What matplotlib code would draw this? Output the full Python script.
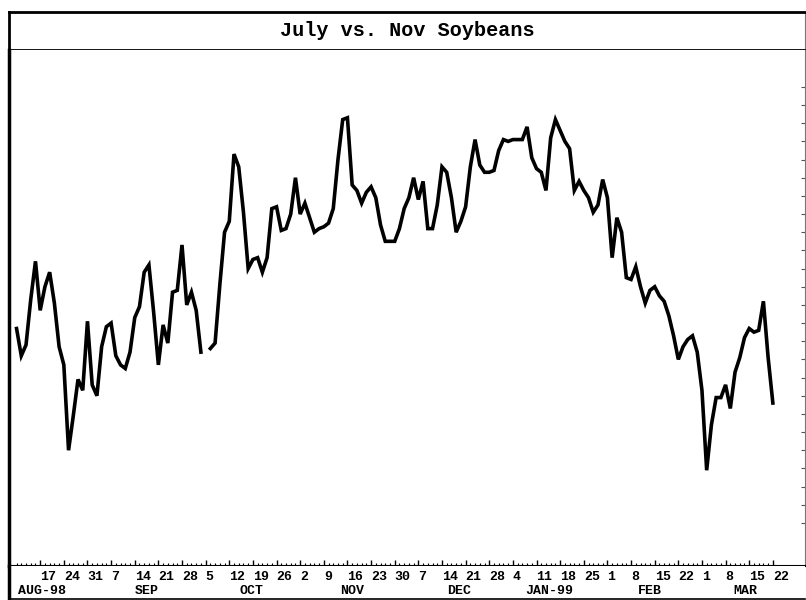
import numpy as np
import pandas as pd
import matplotlib
matplotlib.use("Agg")
import matplotlib.pyplot as plt

# July minus Nov soybean spread, one value per trading day
start_day = "1998-08-10"
end_day = "1999-03-22"
spread = [
    10.7, 9.2, 9.8, 12.3, 14.4, 11.7, 13.0, 13.8, 12.1, 9.7,
    8.7, 4.0, 5.9, 7.9, 7.3, 11.1, 7.6, 7.0, 9.7, 10.8,
    11.0, 9.2, 8.7, 8.5, 9.4, 11.3, 11.9, 13.8, 14.2, 11.6,
    8.7, 10.9, 9.9, 12.7, 12.8, 15.3, 12.0, 12.7, 11.7, 9.4,
    np.nan, 9.6, 9.9, 13.1, 16.0, 16.6, 20.3, 19.6, 17.1, 14.0,
    14.5, 14.6, 13.8, 14.6, 17.3, 17.4, 16.1, 16.2, 17.0, 19.0,
    17.0, 17.6, 16.8, 16.0, 16.2, 16.3, 16.5, 17.3, 20.0, 22.2,
    22.3, 18.6, 18.3, 17.6, 18.2, 18.5, 17.9, 16.4, 15.5, 15.5,
    15.5, 16.2, 17.3, 17.9, 19.0, 17.8, 18.8, 16.2, 16.2, 17.5,
    19.6, 19.3, 17.9, 16.0, 16.6, 17.4, 19.6, 21.1, 19.7, 19.3,
    19.3, 19.4, 20.5, 21.1, 21.0, 21.1, 21.1, 21.1, 21.8, 20.1,
    19.5, 19.3, 18.3, 21.2, 22.2, 21.6, 21.0, 20.6, 18.3, 18.8,
    18.3, 17.9, 17.1, 17.5, 18.9, 17.9, 14.6, 16.8, 16.0, 13.5,
    13.4, 14.1, 13.0, 12.1, 12.8, 13.0, 12.5, 12.2, 11.4, 10.3,
    9.0, 9.7, 10.1, 10.3, 9.4, 7.3, 2.9, 5.4, 6.9, 6.9,
    7.6, 6.3, 8.3, 9.1, 10.2, 10.7, 10.5, 10.6, 12.2, 9.1,
    6.6,
]
title = "July vs. Nov Soybeans"
month_labels = ["AUG-98", "SEP", "OCT", "NOV", "DEC", "JAN-99", "FEB", "MAR"]
month_label_pos = [5.4, 27.6, 49.8, 70.9, 93.6, 112.8, 134.0, 154.1]

dates = pd.bdate_range(start_day, end_day)
x = np.arange(len(dates))
mondays = [i for i, d in enumerate(dates) if d.weekday() == 0 and i > 0]
day_labels = [str(dates[i].day) for i in mondays]

W, H = 806, 600
fig = plt.figure(figsize=(W / 100, H / 100), dpi=100)
mono = "Liberation Mono"

left = 9 / W
width = (805 - 9) / W
xlim = (-1.6, 166.8)

# title box
tax = fig.add_axes([left, 1 - 50 / H, width, 38 / H])
tax.set_xticks([])
tax.set_yticks([])
for s in ["top", "left", "bottom"]:
    tax.spines[s].set_linewidth(2)
tax.spines["right"].set_linewidth(0.8)
tax.spines["right"].set_color("#777777")
tax.text(0.5, 0.5, title, ha="center", va="center", fontsize=14.5,
         fontweight="bold", family=mono, transform=tax.transAxes)

# main plot
ax = fig.add_axes([left, 34 / H, width, (566 - 50) / H])
ax.plot(x, spread, color="black", lw=2.6, solid_joinstyle="miter")
ax.set_xlim(*xlim)
ax.set_ylim(-2.37, 26.03)
ax.spines["top"].set_visible(False)
ax.spines["left"].set_linewidth(2.5)
ax.spines["bottom"].set_linewidth(1.5)
ax.spines["right"].set_linewidth(0.8)
ax.spines["right"].set_color("#777777")
ax.yaxis.tick_right()
ax.set_yticks(np.arange(0, 25, 1))
ax.set_yticklabels([])
ax.tick_params(axis="y", direction="in", length=3, width=0.8, color="#555555")
ax.set_xticks(mondays)
ax.set_xticks(x, minor=True)
ax.set_xticklabels([])
ax.tick_params(axis="x", which="major", direction="in", length=4, width=1)
ax.tick_params(axis="x", which="minor", direction="in", length=2, width=0.8)

# date panel
dax = fig.add_axes([left, 1 / H, width, 33 / H])
dax.set_xlim(*xlim)
dax.set_ylim(0, 1)
dax.set_xticks([])
dax.set_yticks([])
dax.spines["top"].set_visible(False)
dax.spines["right"].set_visible(False)
dax.spines["left"].set_linewidth(2.5)
dax.spines["bottom"].set_linewidth(1.2)
for i, lab in zip(mondays, day_labels):
    dax.text(i, 0.68, lab, ha="left", va="center", fontsize=9.5,
             fontweight="bold", family=mono)
for pos, lab in zip(month_label_pos, month_labels):
    dax.text(pos, 0.25, lab, ha="center", va="center", fontsize=9.5,
             fontweight="bold", family=mono)

fig.savefig("out.png", dpi=100)
